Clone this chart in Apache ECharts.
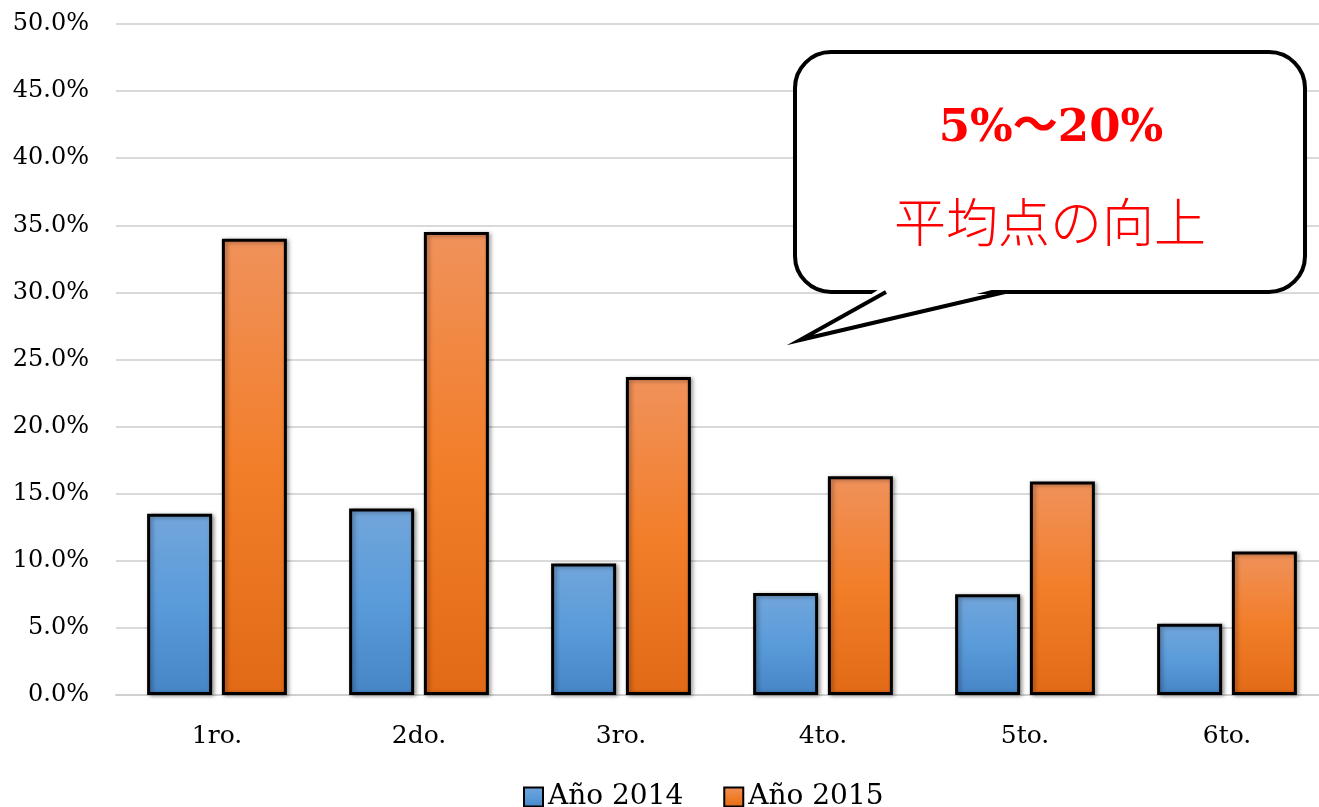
<!DOCTYPE html>
<html><head><meta charset="utf-8">
<script src="https://cdn.jsdelivr.net/npm/echarts@6/dist/echarts.min.js"></script>
<style>html,body{margin:0;padding:0;background:#fff}#c{width:1319px;height:807px}</style>
</head><body><div id="c"></div>
<script>
const categories = ['1ro.', '2do.', '3ro.', '4to.', '5to.', '6to.'];
const seriesNames = ['Año 2014', 'Año 2015'];
const values2014 = [13.5, 13.9, 9.8, 7.6, 7.5, 5.3];
const values2015 = [34.0, 34.5, 23.7, 16.3, 15.9, 10.7];
const bubbleLine1 = '5%～20%';
const bubbleLine2 = '平均点の向上';

const serif = '"DejaVu Serif", "Liberation Serif", serif';
const blueGrad = {type: 'linear', x: 0, y: 0, x2: 0, y2: 1, colorStops: [
  {offset: 0, color: '#72A6DB'}, {offset: 0.5, color: '#5A9BDA'}, {offset: 1, color: '#4685C6'}]};
const orangeGrad = {type: 'linear', x: 0, y: 0, x2: 0, y2: 1, colorStops: [
  {offset: 0, color: '#F0925B'}, {offset: 0.5, color: '#F27E2A'}, {offset: 1, color: '#E26A17'}]};

const chart = echarts.init(document.getElementById('c'), null, {renderer: 'canvas'});
const barStyle = (c) => ({
  color: c, borderColor: '#000', borderWidth: 3,
  shadowColor: 'rgba(0,0,0,0.35)', shadowBlur: 4, shadowOffsetX: 2, shadowOffsetY: 1
});
chart.setOption({
  animation: false,
  grid: {left: 116, right: -9, top: 24, bottom: 112, outerBoundsMode: 'none', containLabel: false},
  legend: {
    top: 778, left: 518, itemWidth: 19, itemHeight: 19, itemGap: 40,
    icon: 'rect',
    textStyle: {fontFamily: serif, fontSize: 28, color: '#000'},
    data: seriesNames
  },
  xAxis: {
    type: 'category', data: categories,
    axisLine: {lineStyle: {color: '#d0d0d0', width: 2}},
    axisTick: {show: false},
    axisLabel: {fontFamily: serif, fontSize: 25, color: '#000', margin: 29}
  },
  yAxis: {
    type: 'value', min: 0, max: 50, interval: 5,
    axisLine: {show: false}, axisTick: {show: false},
    splitLine: {lineStyle: {color: '#d9d9d9', width: 2}},
    axisLabel: {fontFamily: serif, fontSize: 24, color: '#000', margin: 27,
      formatter: v => v.toFixed(1) + '%'}
  },
  series: [
    {name: seriesNames[0], type: 'bar', data: values2014, barWidth: 65, barGap: '15%',
     itemStyle: barStyle(blueGrad)},
    {name: seriesNames[1], type: 'bar', data: values2015, barWidth: 65,
     itemStyle: barStyle(orangeGrad)}
  ],
  graphic: [
    {type: 'rect', z: 100, shape: {x: 795, y: 52, width: 510, height: 240, r: 36},
     style: {fill: '#fff', stroke: '#000', lineWidth: 4}},
    {type: 'polygon', z: 101, shape: {points: [[884, 286], [800, 340], [1007, 286]]},
     style: {fill: '#fff'}},
    {type: 'polyline', z: 102, shape: {points: [[886, 292], [800, 340], [1005, 292]]},
     style: {fill: null, stroke: '#000', lineWidth: 4, lineJoin: 'miter'}},
    {type: 'text', z: 103, x: 1051, y: 129,
     style: {text: bubbleLine1, fill: '#ff0000', align: 'center', verticalAlign: 'middle',
       font: 'bold 45px "DejaVu Serif", "Noto Sans CJK JP", serif'}},
    {type: 'text', z: 103, x: 1050, y: 222,
     style: {text: bubbleLine2, fill: '#ff0000', align: 'center', verticalAlign: 'middle',
       font: '300 52px "Noto Sans CJK JP", sans-serif'}}
  ]
});
</script></body></html>
